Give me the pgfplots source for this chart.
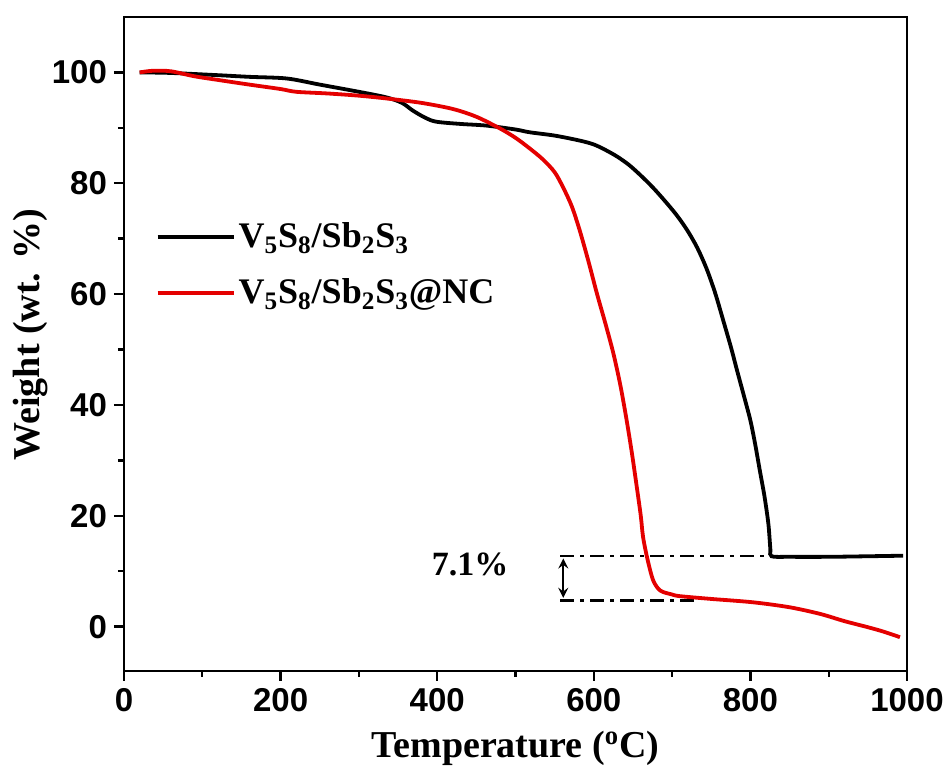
\documentclass[border=0pt]{standalone}
\usepackage{fontspec}
\setmainfont{Liberation Serif}
\setsansfont{Liberation Sans}
\usepackage{pgfplots}
\pgfplotsset{compat=1.18}
\definecolor{tgared}{RGB}{228,0,0}

\begin{document}
\begin{tikzpicture}
\begin{axis}[
  at={(0,0)}, anchor=south west,
  scale only axis, width=391.5pt, height=327pt,
  xmin=0, xmax=1000, ymin=-8, ymax=110,
  xtick={0,200,...,1000}, ytick={0,20,...,100},
  minor x tick num=1, minor y tick num=1,
  tick align=outside, xtick pos=bottom, ytick pos=left,
  major tick length=5pt, minor tick length=3pt,
  axis line style={line width=1.4pt},
  every tick/.style={line width=1.2pt, black},
  ticklabel style={font=\sffamily\bfseries\fontsize{16.5}{16.5}\selectfont},
  /pgf/number format/assume math mode=true,
  /pgf/number format/1000 sep={},
  xlabel={Temperature (\textsuperscript{o}C)},
  ylabel={Weight (wt. \%)},
  label style={font=\bfseries\fontsize{19}{19}\selectfont},
  xlabel style={at={(axis description cs:0.5,-0.1177)}, anchor=center},
  ylabel style={at={(axis description cs:-0.12,0.514)}, anchor=center},
  legend style={at={(0.04,0.621)}, anchor=west, draw=none, fill=none,
    inner sep=0pt, row sep=11pt,
    font=\bfseries\fontsize{18}{18}\selectfont,
    nodes={inner sep=1.5pt}},
  legend cell align=left,
  legend image code/.code={\draw[#1] (0pt,0pt) -- (38pt,0pt);},
]

% 7.1% annotation
\addplot[black, line width=1.2pt, dash pattern=on 7pt off 3pt on 2pt off 3pt, forget plot]
  coordinates {(557,12.8) (826,12.8)};
\addplot[black, line width=1.2pt, dash pattern=on 7pt off 3pt on 2pt off 3pt, forget plot]
  coordinates {(557,4.7) (735,4.7)};
\draw[<->, >=stealth, line width=1.2pt] (axis cs:561,12.3) -- (axis cs:561,5.2);
\node[font=\bfseries\fontsize{17}{17}\selectfont] at (axis cs:442,11.3) {7.1\%};

% V5S8/Sb2S3
\addplot[black, line width=1.9pt, smooth, tension=0.5] coordinates {
  (20,100) (60,99.9) (120,99.5) (160,99.2) (208,98.9) (250,97.8) (300,96.5)
  (335,95.5) (355,94.5) (369,93.1) (385,91.8) (399,91.1) (430,90.7) (463,90.4)
  (500,89.7) (518,89.2) (550,88.6) (582,87.7) (600,87.0) (615,86.0) (630,84.8)
  (645,83.3) (660,81.4) (675,79.3) (689,77.1) (705,74.4) (719,71.6) (732,68.4)
  (744,64.6) (755,60.2) (765,55.4) (775,50.5) (783,46.2) (792,41.5) (800,37.2)
  (806,33) (812,28.2) (818,23.5) (823,18.5) (825.5,14) (827,12.7) (850,12.6)
  (900,12.6) (950,12.7) (995,12.8)
};
% V5S8/Sb2S3@NC
\addplot[tgared, line width=1.9pt, smooth, tension=0.5] coordinates {
  (20,100) (37,100.3) (60,100.2) (90,99.3) (122,98.6) (160,97.8) (200,97.0)
  (220,96.5) (260,96.2) (300,95.8) (335,95.3) (380,94.5) (420,93.4) (450,92.0)
  (480,89.9) (500,88.2) (518,86.3) (535,84.3) (550,82.0) (561,79.2) (572,75.8)
  (582,71.5) (593,66) (604,60.1) (615,54.6) (625,49.3) (634,43.5) (642,37.2)
  (649,31) (655,25.1) (660,20) (663,16.1) (669,11.9) (676,8.3) (685,6.5)
  (700,5.8) (710,5.5) (750,5.0) (803,4.4) (850,3.5) (889,2.3) (920,1.0)
  (950,-0.1) (970,-0.9) (991,-1.9)
};
\legend{V\textsubscript{5}S\textsubscript{8}/Sb\textsubscript{2}S\textsubscript{3},
        V\textsubscript{5}S\textsubscript{8}/Sb\textsubscript{2}S\textsubscript{3}@NC}
\end{axis}
\pgfresetboundingbox
\path (-62pt,-51.5pt) rectangle (412.5pt,335.5pt);
\end{tikzpicture}
\end{document}
